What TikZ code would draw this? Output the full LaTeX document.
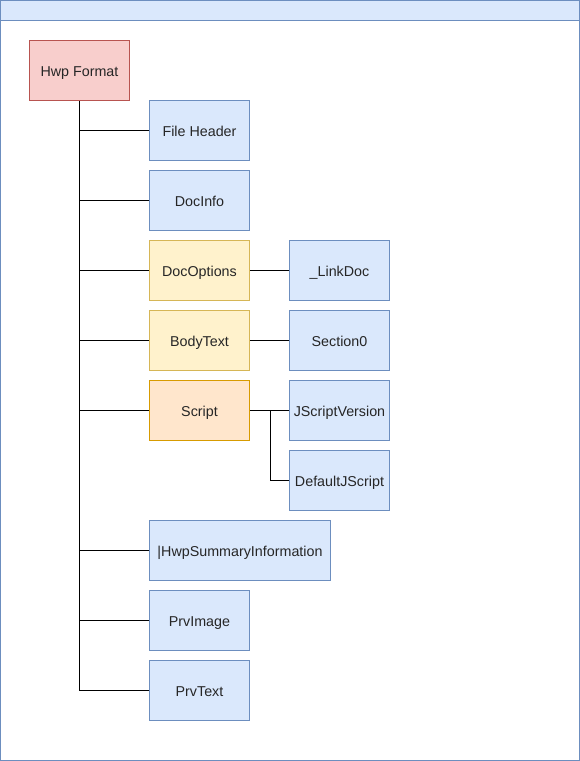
\documentclass[tikz,border=0pt]{standalone}
\usepackage{fontspec}
\setmainfont{Liberation Sans}
\definecolor{bfill}{HTML}{DAE8FC}\definecolor{bdraw}{HTML}{6C8EBF}
\definecolor{rfill}{HTML}{F8CECC}\definecolor{rdraw}{HTML}{B85450}
\definecolor{yfill}{HTML}{FFF2CC}\definecolor{ydraw}{HTML}{D6B656}
\definecolor{ofill}{HTML}{FFE6CC}\definecolor{odraw}{HTML}{D79B00}
\begin{document}
\begin{tikzpicture}[x=1pt,y=-1pt,
  box/.style={draw=bdraw,fill=bfill,line width=1pt,minimum width=100pt,minimum height=60pt,inner sep=0pt,text height=11.5pt,text depth=0pt,font=\fontsize{14.3}{16}\selectfont,text=black!85,anchor=north west},
  redbox/.style={box,draw=rdraw,fill=rfill},
  yelbox/.style={box,draw=ydraw,fill=yfill},
  orabox/.style={box,draw=odraw,fill=ofill},
  conn/.style={draw=black,line width=1pt}]
\useasboundingbox (0,0) rectangle (580,761);
\draw[draw=bdraw,fill=white,line width=1pt] (0.5,0.5) rectangle (579.5,760.5);
\draw[draw=bdraw,fill=bfill,line width=1pt] (0.5,0.5) rectangle (579.5,20);
\node[redbox] (root) at (29,40) {Hwp Format};
\node[box] (fh) at (149,100) {File Header};
\node[box] (di) at (149,170) {DocInfo};
\node[yelbox] (dopt) at (149,240) {DocOptions};
\node[yelbox] (bt) at (149,310) {BodyText};
\node[orabox] (sc) at (149,380) {Script};
\node[box,minimum width=181pt] (hs) at (149,520) {|HwpSummaryInformation};
\node[box] (pi) at (149,590) {PrvImage};
\node[box] (pt) at (149,660) {PrvText};
\node[box] (ld) at (289,240) {\_LinkDoc};
\node[box] (s0) at (289,310) {Section0};
\node[box] (jv) at (289,380) {JScriptVersion};
\node[box] (dj) at (289,450) {DefaultJScript};
\foreach \n in {fh,di,dopt,bt,sc,hs,pi,pt}
  \draw[conn] (root.south) |- (\n.west);
\draw[conn] (dopt.east) -- (ld.west);
\draw[conn] (bt.east) -- (s0.west);
\draw[conn] (sc.east) -- (jv.west);
\coordinate (sj) at ([xshift=20pt]sc.east);
\draw[conn] (sj) |- (dj.west);
\end{tikzpicture}
\end{document}
